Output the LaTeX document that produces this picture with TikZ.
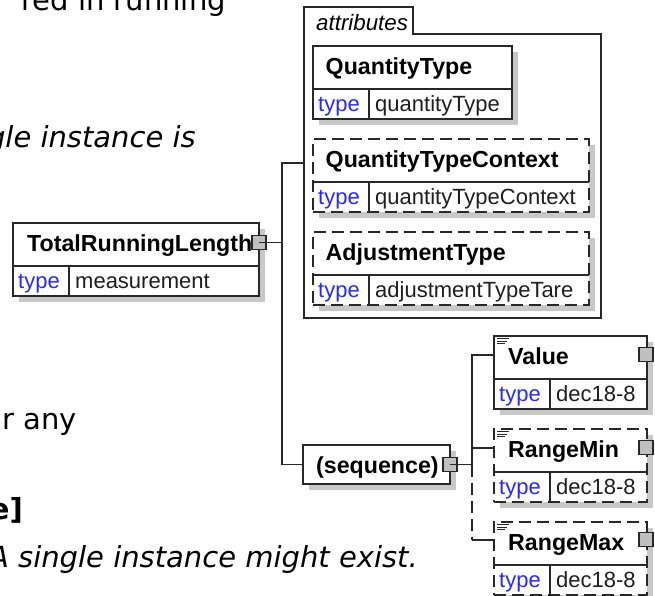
\documentclass[tikz,border=0pt]{standalone}
\usepackage{fontspec}
\setmainfont{Liberation Sans}
\newfontfamily\bgfont{DejaVu Sans}
\definecolor{lncol}{RGB}{40,40,40}
\definecolor{shcol}{RGB}{200,200,200}
\definecolor{sqcol}{RGB}{192,192,192}
\definecolor{typcol}{RGB}{40,40,255}
\definecolor{valcol}{RGB}{30,30,30}
\tikzset{
  ln/.style={draw=lncol, line width=1.6pt},
  dsh/.style={dash pattern=on 12pt off 6pt},
  shadowfill/.style={fill=shcol, draw=none},
  boxnode/.style={ln, fill=white, inner sep=0pt, outer sep=0pt, anchor=north west},
  sqnode/.style={ln, line width=1.3pt, fill=sqcol, minimum width=14pt, minimum height=14pt, inner sep=0pt, outer sep=0pt},
  nametext/.style={font=\fontsize{23.2}{25}\selectfont\bfseries, anchor=base west, inner sep=0pt, text=black},
  typelbl/.style={font=\fontsize{22}{24}\selectfont, anchor=base west, inner sep=0pt, text=typcol},
  typeval/.style={font=\fontsize{22}{24}\selectfont, anchor=base west, inner sep=0pt, text=valcol},
  bgtext/.style={font=\bgfont\fontsize{29}{32}\selectfont, anchor=base east, inner sep=0pt, text=black},
  bgital/.style={bgtext, font=\bgfont\fontsize{29}{32}\selectfont\itshape},
  bgbold/.style={bgtext, font=\bgfont\fontsize{29}{32}\selectfont\bfseries},
}
% #1 name, #2 x, #3 y, #4 width, #5 border style, #6 label, #7 type, #8 name offset
\newcommand{\elembox}[8]{%
  \fill[shadowfill] (#2+6,#3+6) rectangle (#2+#4+6,#3+79);
  \node[boxnode,#5,minimum width=#4,minimum height=73] (#1) at (#2,#3) {};
  \draw[ln] (#2,#3+43) -- (#2+#4,#3+43);
  \draw[ln] (#2+56,#3+43) -- (#2+56,#3+73);
  \node[nametext] (#1-name) at (#2+#8,#3+28) {#6};
  \node[typelbl] (#1-tl) at (#2+5,#3+65) {type};
  \node[typeval] (#1-tv) at (#2+62,#3+65) {#7};
}
\newcommand{\annoicon}[2]{%
  \draw[lncol, line width=1pt] (#1+3,#2+2.5) -- ++(12,0);
  \draw[lncol, line width=1pt] (#1+3,#2+5.2) -- ++(10,0);
  \draw[lncol, line width=1pt] (#1+3,#2+7.9) -- ++(8,0);
}
\begin{document}
\begin{tikzpicture}[x=1pt,y=-1pt]
\useasboundingbox (0,0) rectangle (655,595);
\fill[white] (0,0) rectangle (655,595);

% background document text
\node[bgtext] (bg1) at (226,10) {red in running};
\node[bgital] (bg2) at (196,147) {gle instance is};
\node[bgtext] (bg3) at (77,429) {r any};
\node[bgbold] (bg4) at (23,519) {e]};
\node[bgital] (bg5) at (418,567) {A single instance might exist.};

% attributes container
\draw[ln, fill=white] (304,318) -- (304,7) -- (413,7) -- (413,34) -- (601,34) -- (601,318) -- cycle;
\node[font=\fontsize{22.3}{24}\selectfont\itshape, anchor=base west, inner sep=0pt] (attrlbl) at (316,30) {attributes};
\coordinate (attrin) at (304,163);

% root element
\elembox{trl}{13}{223}{246}{solid}{TotalRunningLength}{measurement}{14}

% attributes
\elembox{qt}{313}{46}{199}{solid}{QuantityType}{quantityType}{12.5}
\elembox{qtc}{313}{139}{276}{dsh}{QuantityTypeContext}{quantityTypeContext}{12.5}
\elembox{at}{313}{232}{276}{dsh}{AdjustmentType}{adjustmentTypeTare}{12.5}

% sequence
\fill[shadowfill] (309,451) rectangle (456,490);
\node[boxnode, minimum width=147, minimum height=39] (seq) at (303,445) {};
\node[nametext] (seqlbl) at (316,473) {(sequence)};

% children
\elembox{val}{494}{336}{153}{solid}{Value}{dec18-8}{14}
\elembox{rmin}{494}{429}{153}{dsh}{RangeMin}{dec18-8}{14}
\elembox{rmax}{494}{522}{153}{dsh}{RangeMax}{dec18-8}{14}
\annoicon{494}{336}
\annoicon{494}{429}
\annoicon{494}{522}

% connector squares
\node[sqnode] (trlsq) at (259,242.5) {};
\node[sqnode] (seqsq) at (seq.east) {};
\node[sqnode] (valsq) at (646,354.5) {};
\node[sqnode] (rminsq) at (646,447.5) {};
\node[sqnode] (rmaxsq) at (646,539.5) {};

% connectors root
\coordinate (tj) at (282,242.5);
\draw[ln] (trlsq.center) -- (tj);
\draw[ln] (attrin) -| (tj);
\draw[ln] (tj) |- (seq.west);

% connectors sequence
\coordinate (sj) at (472,464.5);
\coordinate (valin) at (494,355);
\coordinate (rminin) at (494,448);
\coordinate (rmaxin) at (494,540);
\draw[ln] (seqsq.center) -- (sj);
\draw[ln] (sj) |- (valin);
\draw[ln] (sj |- rminin) -- (rminin);
\draw[ln, dsh] (sj) -- (sj |- rmaxin);
\draw[ln] (sj |- rmaxin) -- (rmaxin);
\end{tikzpicture}
\end{document}
